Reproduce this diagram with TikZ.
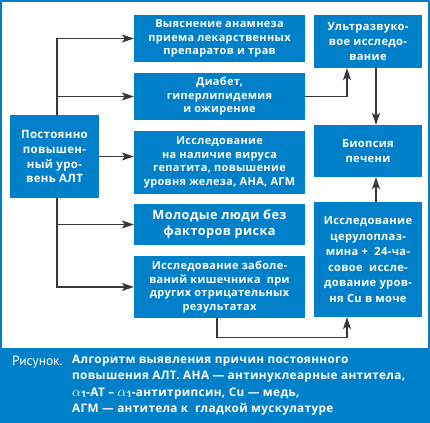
\documentclass[tikz,border=0pt]{standalone}
\usepackage{fontspec}
\setmainfont{Open Sans}[LetterSpace=3]
\newfontfamily\capfont{PT Sans}
\usetikzlibrary{arrows.meta}
\definecolor{bblue}{RGB}{0,128,200}
\definecolor{lgray}{RGB}{55,55,55}
\newcommand{\myalp}{{\fontsize{14.5}{16.5}\selectfont$\alpha$}{\fontsize{9}{10}\selectfont\raisebox{-1.5bp}{1}}}
\tikzset{
  box/.style={fill=bblue, text=white, font=\bfseries\fontsize{11}{13.5}\selectfont, align=center, inner sep=0pt},
  arr/.style={draw=lgray, line width=1.1bp, -{Stealth[length=12bp,width=8bp,inset=3bp]}},
}
\begin{document}
\begin{tikzpicture}[x=1bp,y=-1bp]
\useasboundingbox (0,0) rectangle (430,423);
\fill[white] (0,0) rectangle (430,423);
\fill[bblue] (0,348) rectangle (430,423);
\draw[bblue, line width=2.4bp] (1.2,1.2) rectangle (428.8,421.8);
% left
\node[box, minimum width=89bp, minimum height=83bp, font=\bfseries\fontsize{11.5}{15}\selectfont] (L) at (54.5,156.5) {Постоянно\\повышен-\\ный уро-\\вень АЛТ};
% middle column
\node[box, minimum width=171bp, minimum height=47bp] (b1) at (219.5,38.5) {Выяснение анамнеза\\приема лекарственных\\препаратов и трав};
\node[box, minimum width=171bp, minimum height=47bp] (b2) at (219.5,96.5) {Диабет,\\гиперлипидемия\\и ожирение};
\node[box, minimum width=171bp, minimum height=63bp] (b3) at (219.5,162.5) {Исследование\\на наличие вируса\\гепатита, повышение\\уровня железа, АНА, АГМ};
\node[box, minimum width=171bp, minimum height=41bp, font=\bfseries\fontsize{12.8}{16}\selectfont] (b4) at (219.5,224.5) {Молодые люди без\\факторов риска};
\node[box, minimum width=171bp, minimum height=62bp, font=\bfseries\fontsize{11}{13.8}\selectfont] (b5) at (219.5,287) {Исследование заболе-\\ваний кишечника\ \ при\\других отрицательных\\результатах};
% right column
\node[box, minimum width=108bp, minimum height=53bp, font=\bfseries\fontsize{11.2}{15}\selectfont] (U) at (368,41.5) {Ультразвуко-\\вое исследо-\\вание};
\node[box, minimum width=108bp, minimum height=52bp, font=\bfseries\fontsize{11.2}{15}\selectfont] (B) at (368,151) {Биопсия\\печени};
\node[box, minimum width=108bp, minimum height=115bp, font=\bfseries\fontsize{11.2}{15.5}\selectfont] (C) at (368,259.5) {Исследование\\церулоплаз-\\мина +\ \ 24-ча-\\совое\ \ иссле-\\дование уров-\\ня Cu в моче};
% helper coordinates
\coordinate (tt) at (57,115);
\coordinate (tb) at (57,198);
\coordinate (cx) at (376,0);
\coordinate (lx) at (347,0);
\coordinate (bx) at (217,0);
% connectors
\draw[arr] (tt) |- (b1.west);
\draw[arr] (tt) |- (b2.west);
\draw[arr] (L.east) -- (L.east -| b3.west);
\draw[arr] (tb) |- (b4.west);
\draw[arr] (tb) |- (b5.west);
\draw[arr] (b2.east) -| (U.south -| lx);
\draw[arr] (U.south -| cx) -- (B.north -| cx);
\draw[arr] (C.north -| cx) -- (B.south -| cx);
\draw[arr] (b5.south -| bx) -- ++(0,19) -| (C.south -| lx);
% caption
\node[anchor=base west, text=white, inner sep=0pt, font=\capfont\fontsize{13.5}{16.5}\selectfont] (cap) at (12,365) {Рисунок.};
\node[anchor=north west, text=white, inner sep=0pt, align=left, font=\bfseries\fontsize{11.8}{16.5}\selectfont] (capt) at (72,354.5) {Алгоритм выявления причин постоянного\\повышения АЛТ. АНА --- антинуклеарные антитела,\\\myalp-АТ -- \myalp-антитрипсин, Cu --- медь,\\АГМ --- антитела к\ \ гладкой мускулатуре};
\end{tikzpicture}
\end{document}
